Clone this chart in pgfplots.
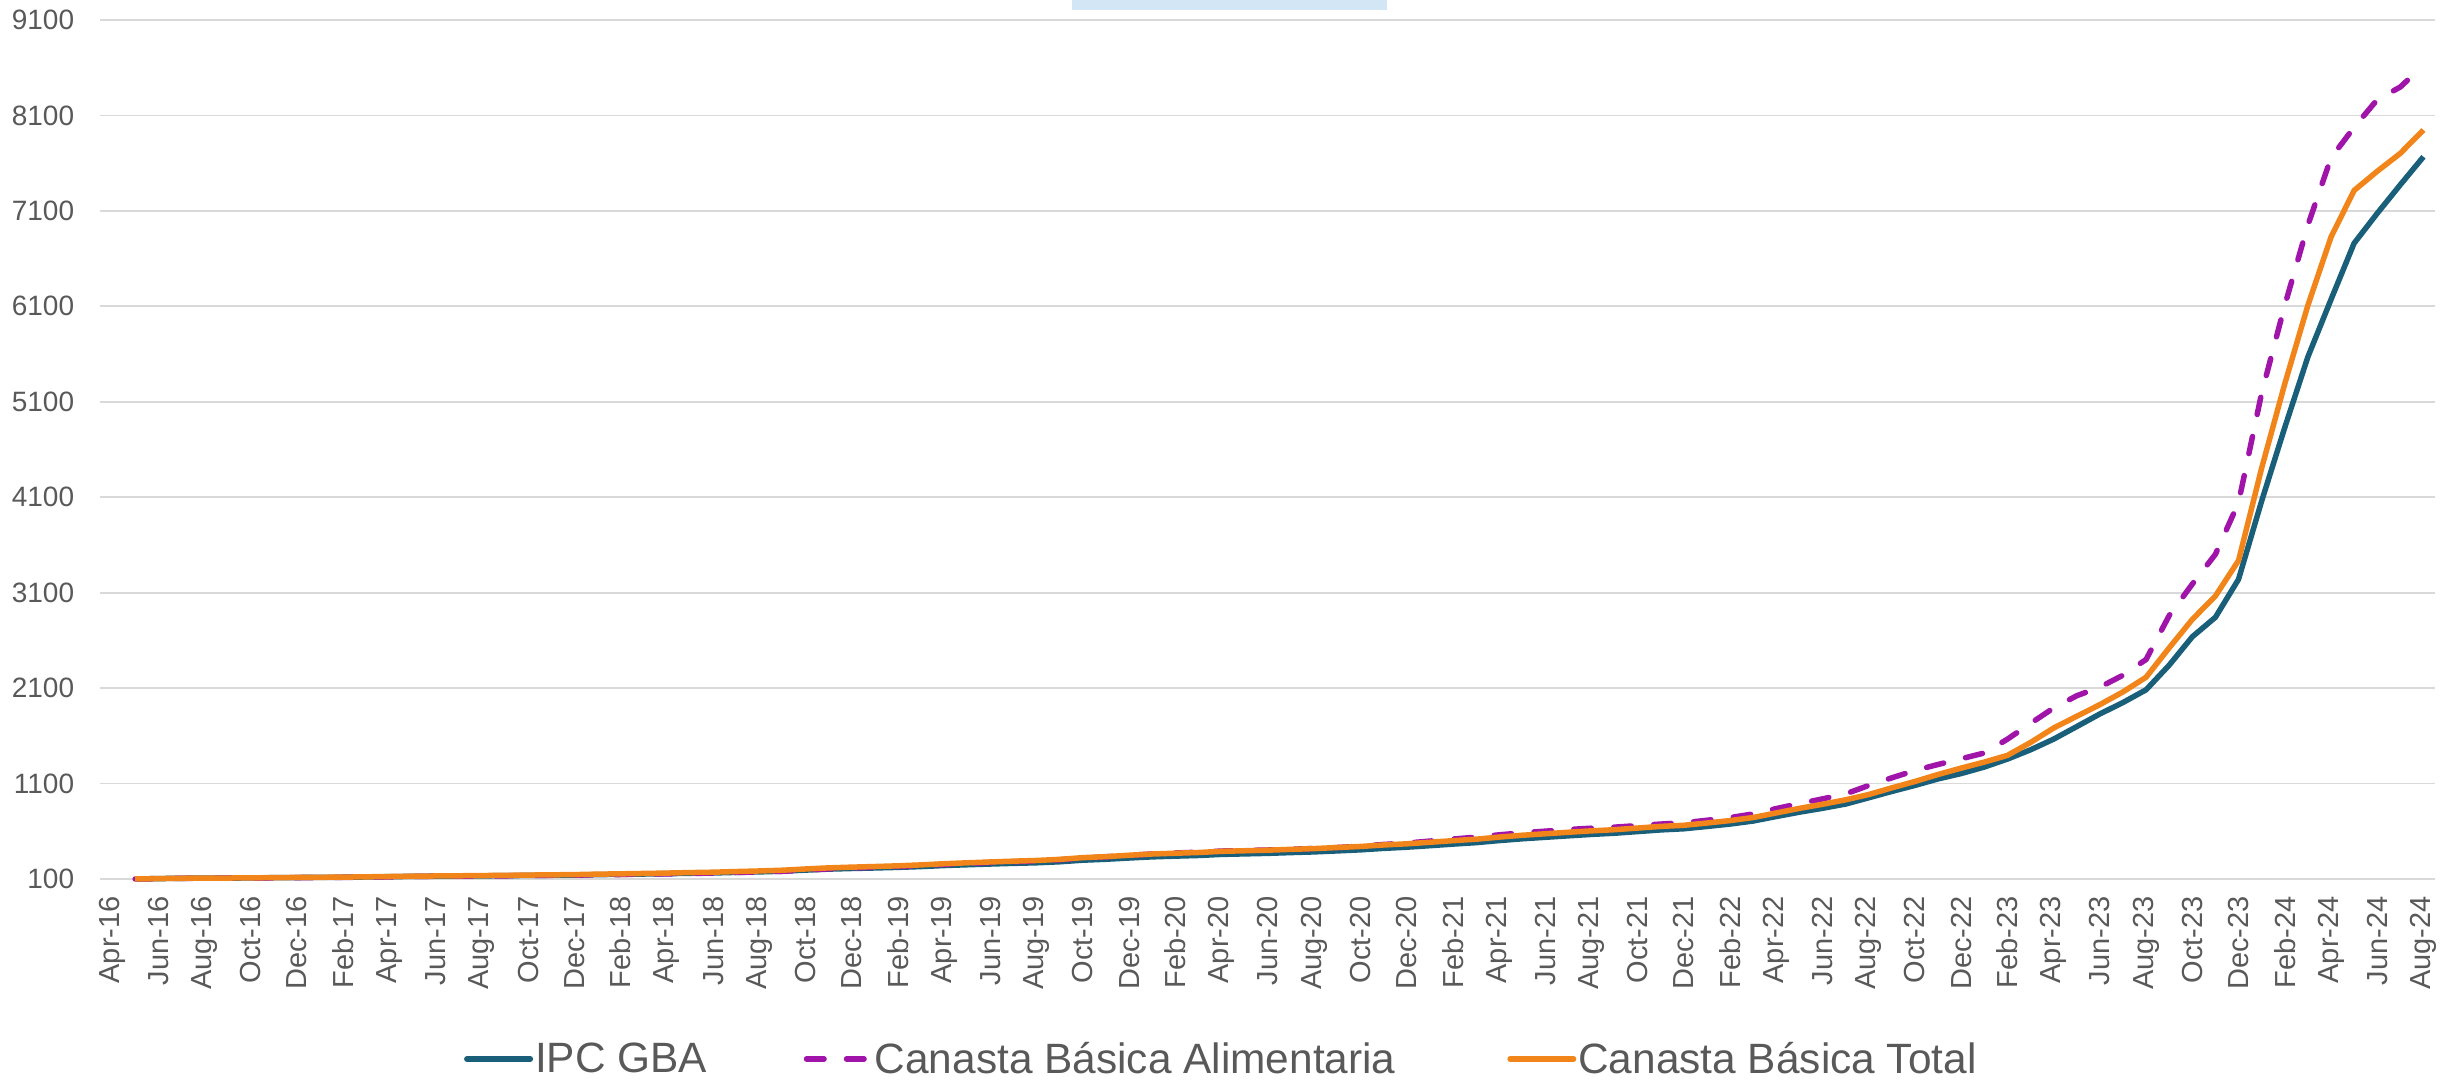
\documentclass[border=0pt]{standalone}
\usepackage{pgfplots}
\pgfplotsset{compat=1.18}
\usepackage{pgfplotstable}
\usepackage{fontspec}
\setmainfont{Liberation Sans}
\definecolor{ipc}{RGB}{26,95,122}
\definecolor{cba}{RGB}{160,20,170}
\definecolor{cbt}{RGB}{242,133,25}
\definecolor{gridgray}{RGB}{217,217,217}
\definecolor{txtgray}{RGB}{89,89,89}
\definecolor{boxblue}{RGB}{210,230,245}

\pgfplotstableread{
i ipc cba cbt
1 100 100 100
2 104.2 103.7 104.3
3 107.4 106.3 107.6
4 109.6 108.0 109.9
5 109.8 108.2 110.2
6 111.0 109.3 111.6
7 113.7 112.0 114.4
8 115.5 113.8 116.3
9 116.9 115.1 117.8
10 118.4 116.6 119.6
11 121.4 119.8 122.9
12 124.3 122.8 126.0
13 127.6 126.2 129.6
14 129.4 128.1 131.7
15 131.0 129.7 133.6
16 133.2 131.9 136.1
17 135.1 133.7 138.3
18 137.6 136.2 141.2
19 139.7 138.3 143.6
20 141.7 140.3 146.0
21 146.0 144.5 150.8
22 148.7 147.2 154.1
23 152.2 150.7 158.1
24 155.7 154.1 162.2
25 159.9 158.3 167.1
26 163.3 162.0 171.3
27 169.3 168.3 178.1
28 174.6 173.9 184.2
29 181.4 181.0 191.9
30 193.2 193.2 205.0
31 203.6 206.3 216.6
32 210.1 215.8 224.2
33 215.6 224.2 230.7
34 221.9 231.7 238.1
35 230.3 241.6 247.8
36 241.1 253.9 260.1
37 249.3 263.5 269.7
38 257.0 272.7 278.6
39 264.0 281.4 287.0
40 269.8 288.7 294.1
41 280.6 301.4 305.9
42 297.1 320.6 323.8
43 306.9 332.4 334.5
44 320.1 348.0 348.9
45 332.0 362.2 361.9
46 339.6 372.2 370.2
47 346.4 381.0 377.6
48 357.8 392.9 390.0
49 363.2 398.4 395.9
50 368.7 403.7 401.9
51 376.8 411.8 410.7
52 383.9 419.2 418.5
53 394.3 429.8 429.8
54 405.3 443.0 440.8
55 420.7 461.5 456.5
56 432.9 476.2 468.6
57 448.9 496.9 484.8
58 465.4 518.0 501.5
59 480.7 538.4 516.8
60 502.2 562.5 538.9
61 521.2 583.7 558.2
62 536.8 601.2 573.8
63 552.2 618.5 589.7
64 567.1 632.3 604.5
65 579.5 643.2 616.6
66 596.7 659.4 633.7
67 614.3 675.7 651.2
68 626.4 689.0 662.7
69 650.3 715.3 686.7
70 675.6 743.2 712.1
71 707.4 781.7 744.2
72 754.7 837.7 792.4
73 800.0 890.4 840.0
74 840.8 939.2 882.8
75 885.4 991.6 929.7
76 950.9 1080 985
77 1017.5 1160 1055
78 1080.6 1237 1122
79 1148.7 1300 1195
80 1204.9 1360 1262
81 1273.1 1420 1325
82 1356.4 1565 1395
83 1453.4 1730 1530
84 1565.4 1892 1682
85 1696.9 2020 1805
86 1829.2 2110 1927
87 1949.0 2235 2060
88 2082.4 2400 2214
89 2340.6 2860 2522
90 2637.9 3190 2820
91 2842.2 3502 3065
92 3240 4044 3437
93 4060 5190 4405
94 4830 6110 5288
95 5570 6950 6110
96 6171 7655 6825
97 6761 7976 7314
98 7074 8265 7515
99 7374 8398 7703
100 7667 8626 7948
}\datatable

\begin{document}
\begin{tikzpicture}
\begin{axis}[
  at={(0,0)}, anchor=south west,
  scale only axis,
  width=1167.25pt, height=429.5pt,
  xmin=-0.5, xmax=100.5,
  ymin=100, ymax=9100,
  clip=false,
  axis line style={draw=none},
  major tick length=0pt,
  tick style={draw=none},
  ymajorgrids,
  grid style={color=gridgray, line width=0.9pt},
  ytick={100,1100,2100,3100,4100,5100,6100,7100,8100,9100},
  yticklabels={100,1100,2100,3100,4100,5100,6100,7100,8100,9100},
  xtick={0,2,...,100},
  xticklabels={Apr-16,Jun-16,Aug-16,Oct-16,Dec-16,Feb-17,Apr-17,Jun-17,Aug-17,Oct-17,Dec-17,Feb-18,Apr-18,Jun-18,Aug-18,Oct-18,Dec-18,Feb-19,Apr-19,Jun-19,Aug-19,Oct-19,Dec-19,Feb-20,Apr-20,Jun-20,Aug-20,Oct-20,Dec-20,Feb-21,Apr-21,Jun-21,Aug-21,Oct-21,Dec-21,Feb-22,Apr-22,Jun-22,Aug-22,Oct-22,Dec-22,Feb-23,Apr-23,Jun-23,Aug-23,Oct-23,Dec-23,Feb-24,Apr-24,Jun-24,Aug-24},
  xticklabel style={rotate=90, anchor=east, inner sep=0pt, font=\fontsize{14.5}{16}\selectfont, text=txtgray},
  xticklabel shift=8.5pt,
  yticklabel style={anchor=east, inner sep=0pt, font=\fontsize{14}{16}\selectfont, text=txtgray},
  yticklabel shift=13pt,
  legend columns=3,
  legend cell align=left,
  legend image code/.code={\draw[#1, line cap=round] (0pt,0pt) -- (31.75pt,0pt);},
  legend style={at={(axis description cs:0.15558,-0.2095)}, anchor=west,
    draw=none, fill=none, inner sep=0pt,
    nodes={inner sep=1pt, text=txtgray},
    font=\fontsize{21.2}{25}\selectfont,
    /tikz/every even column/.append style={column sep=47.35pt}},
]
\addplot[color=ipc, line width=2.75pt, line join=round] table[x=i, y=ipc] {\datatable};
\addlegendentry{IPC GBA}
\addplot[color=cba, line width=2.75pt, line join=round, line cap=round, dash pattern=on 8.75pt off 11.25pt] table[x=i, y=cba] {\datatable};
\addlegendentry{Canasta Básica Alimentaria\hspace*{7.5pt}}
\addplot[color=cbt, line width=2.75pt, line join=round] table[x=i, y=cbt] {\datatable};
\addlegendentry{Canasta Básica Total}
\end{axis}
\fill[boxblue] (485.75pt,434.5pt) rectangle (643.1pt,439.5pt);
\pgfresetboundingbox
\path (-50.25pt,-101.5pt) rectangle (1179.25pt,439.5pt);
\end{tikzpicture}
\end{document}
